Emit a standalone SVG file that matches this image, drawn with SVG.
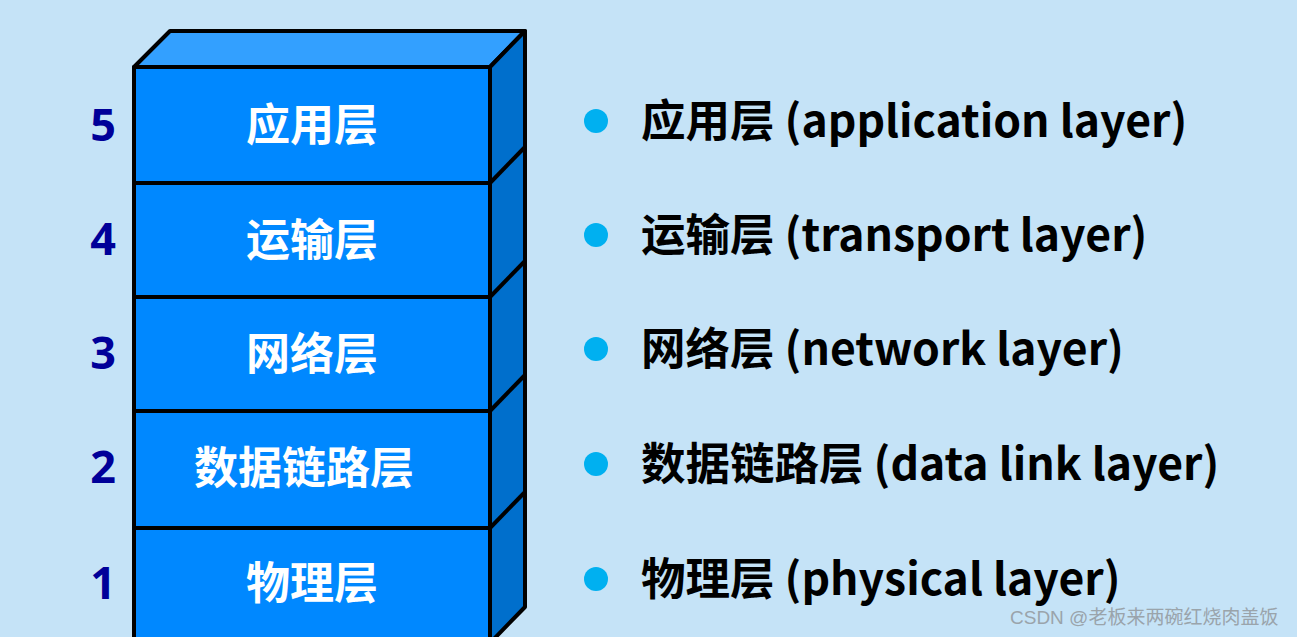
<svg xmlns="http://www.w3.org/2000/svg" width="1297" height="637" viewBox="0 0 1297 637">
<style>
.front{fill:#0088FF;stroke:#000;stroke-width:4;stroke-linejoin:round}
.top{fill:#33A0FF;stroke:#000;stroke-width:4;stroke-linejoin:round}
.side{fill:#006FCC;stroke:#000;stroke-width:4;stroke-linejoin:round}
.div{stroke:#000;stroke-width:4;fill:none}
.num{font-family:"Noto Sans","Noto Sans CJK SC",sans-serif;font-weight:bold;font-size:45px;fill:#000099;text-anchor:middle}
.lbl{font-family:"Noto Sans CJK SC",sans-serif;font-weight:bold;font-size:44px;fill:#fff;text-anchor:middle}
.desc{font-family:"Noto Sans CJK SC",sans-serif;font-weight:bold;font-size:44.5px;fill:#000}
.dot{fill:#00B0F0}
.wm{font-family:"Liberation Sans","Noto Sans CJK SC",sans-serif;font-size:19px;fill:#9aa4ab}
</style>
<rect width="1297" height="637" fill="#C5E3F7"/>
<g id="stack">
<polygon class="top" points="134,67 170,31 525,31 490,67"/>
<polygon class="side" points="490,67 525,31 525,607 490,643"/>
</g>
<g id="connectors">
<line class="div" x1="490" y1="183" x2="525" y2="147"/>
<line class="div" x1="490" y1="297" x2="525" y2="261"/>
<line class="div" x1="490" y1="411" x2="525" y2="375"/>
<line class="div" x1="490" y1="528" x2="525" y2="492"/>
</g>
<g id="layer5"><rect class="front" x="134" y="67" width="356" height="116"/><text class="lbl" x="312" y="141">应用层</text><text class="num" x="103" y="141">5</text></g>
<g id="layer4"><rect class="front" x="134" y="183" width="356" height="114"/><text class="lbl" x="312" y="256">运输层</text><text class="num" x="103" y="255">4</text></g>
<g id="layer3"><rect class="front" x="134" y="297" width="356" height="114"/><text class="lbl" x="312" y="370">网络层</text><text class="num" x="103" y="369">3</text></g>
<g id="layer2"><rect class="front" x="134" y="411" width="356" height="117"/><text class="lbl" x="304" y="484">数据链路层</text><text class="num" x="103" y="483">2</text></g>
<g id="layer1"><rect class="front" x="134" y="528" width="356" height="115"/><text class="lbl" x="312" y="599">物理层</text><text class="num" x="103" y="599">1</text></g>
<g id="desc5"><circle class="dot" cx="596" cy="121" r="12"/><text class="desc" x="641" y="137">应用层 (application layer)</text></g>
<g id="desc4"><circle class="dot" cx="596" cy="235" r="12"/><text class="desc" x="641" y="251">运输层 (transport layer)</text></g>
<g id="desc3"><circle class="dot" cx="596" cy="349" r="12"/><text class="desc" x="641" y="365">网络层 (network layer)</text></g>
<g id="desc2"><circle class="dot" cx="596" cy="464" r="12"/><text class="desc" x="641" y="480">数据链路层 (data link layer)</text></g>
<g id="desc1"><circle class="dot" cx="596" cy="579" r="12"/><text class="desc" x="641" y="595">物理层 (physical layer)</text></g>
<text class="wm" x="1010" y="624">CSDN @老板来两碗红烧肉盖饭</text>
</svg>
